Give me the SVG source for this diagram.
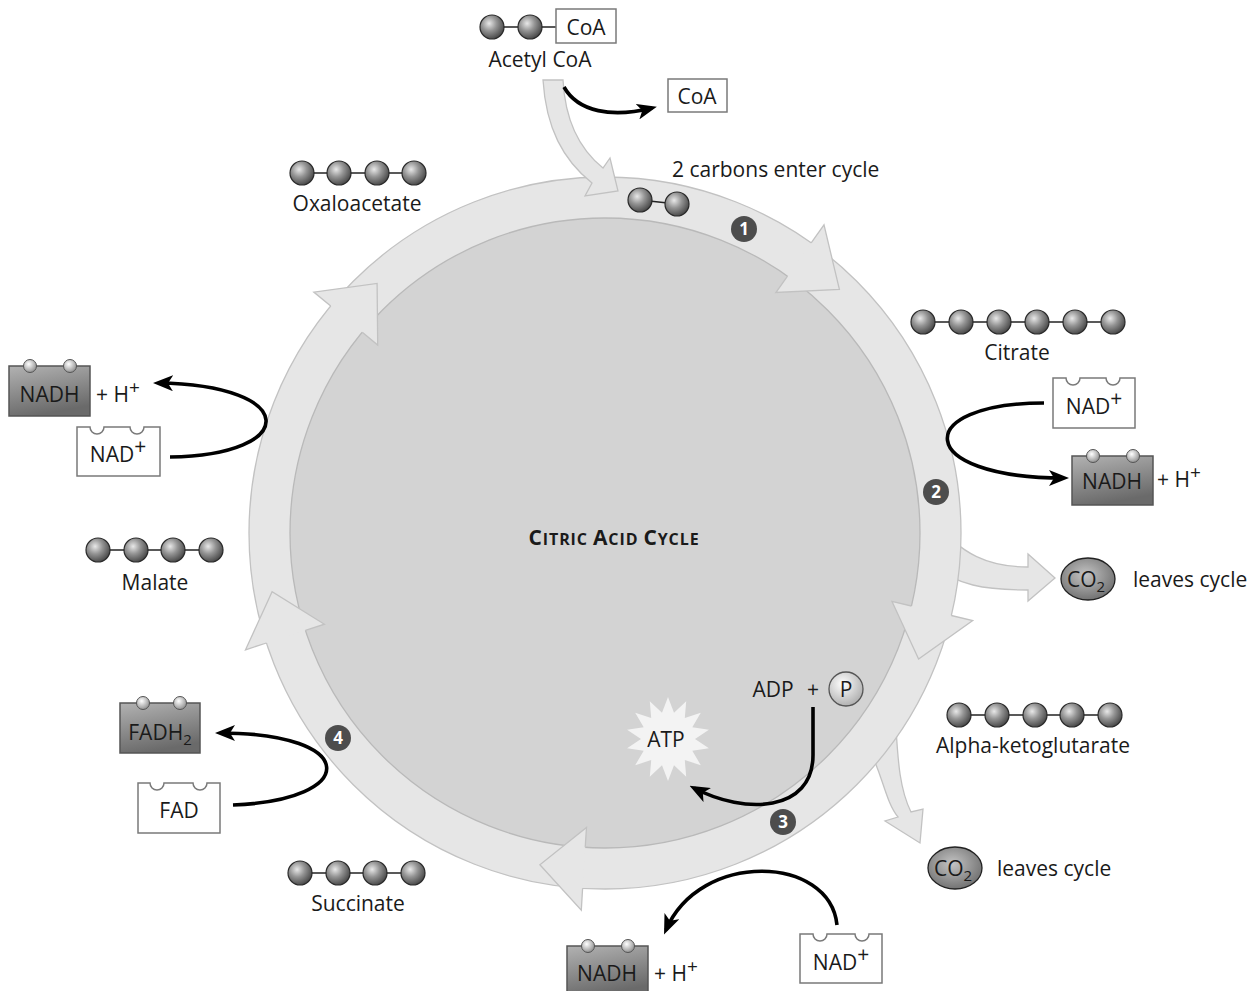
<svg xmlns="http://www.w3.org/2000/svg" width="1254" height="991" viewBox="0 0 1254 991">
<defs>
<radialGradient id="ball" cx="0.38" cy="0.35" r="0.7"><stop offset="0" stop-color="#e8e8e8"/><stop offset="0.45" stop-color="#949494"/><stop offset="1" stop-color="#424242"/></radialGradient>
<radialGradient id="sball" cx="0.4" cy="0.35" r="0.7"><stop offset="0" stop-color="#ffffff"/><stop offset="1" stop-color="#8a8a8a"/></radialGradient>
<radialGradient id="pball" cx="0.4" cy="0.35" r="0.75"><stop offset="0" stop-color="#ffffff"/><stop offset="1" stop-color="#a6a6a6"/></radialGradient>
<radialGradient id="co2" cx="0.45" cy="0.4" r="0.65"><stop offset="0" stop-color="#c4c4c4"/><stop offset="1" stop-color="#6c6c6c"/></radialGradient>
<linearGradient id="nadh" x1="0" y1="0" x2="0.3" y2="1"><stop offset="0" stop-color="#b2b2b2"/><stop offset="1" stop-color="#6a6a6a"/></linearGradient>
<marker id="ah" viewBox="0 0 20 16" refX="15" refY="8" markerWidth="20" markerHeight="16" markerUnits="userSpaceOnUse" orient="auto"><path d="M0,0 L20,8 L0,16 L5,8 Z" fill="#000"/></marker>
<style>
text{font-family:"Open Sans","Liberation Sans",sans-serif;fill:#1a1a1a;}
.lbl{font-size:21px;text-anchor:middle;}
.bx{font-size:21px;text-anchor:middle;}
.sp{fill:url(#ball);stroke:#2a2a2a;stroke-width:1.2;}
.ssp{fill:url(#sball);stroke:#555;stroke-width:1;}
.bond{stroke:#222;stroke-width:1.6;}
.band{fill:#e6e6e6;stroke:#c2c2c2;stroke-width:1.3;}
.head{fill:#e6e6e6;stroke:none;}
.hedge{fill:none;stroke:#c2c2c2;stroke-width:1.3;stroke-linejoin:miter;}
.wbox{fill:#ffffff;stroke:#7a7a7a;stroke-width:1.5;}
.dbox{fill:url(#nadh);stroke:#555;stroke-width:1.5;}
.arr{fill:none;stroke:#000;stroke-width:3.6;marker-end:url(#ah);}
.step{fill:#4d4d4d;}
.stept{font-size:17px;font-weight:bold;fill:#ffffff;text-anchor:middle;}
</style>
</defs>
<rect width="1254" height="991" fill="#ffffff"/>

<g id="exit-arrows">
<path class="band" d="M935,520 C960,555 990,567 1028,567 L1028,554 L1055,578 L1028,601 L1028,590 C985,590 955,585 935,565 Z"/>
<path class="band" d="M862,735 C882,768 884,800 898,817 L885,821 L920,843 L923,809 L911,812 C900,790 898,762 896,728 Z"/>
</g>

<g id="cycle-ring">
<circle cx="605" cy="533" r="356" class="band"/>
<circle cx="605" cy="533" r="315" fill="#d3d3d3" stroke="#b9b9b9" stroke-width="1.3"/>
<polygon class="head" points="824.0,224.9 839.4,289.4 775.9,292.5"/>
<path class="hedge" d="M787.5,276.2 L775.9,292.5 L839.4,289.4 L824.0,224.9 L811.2,242.8"/>
<polygon class="head" points="972.7,620.6 918.6,659.1 892.0,601.4"/>
<path class="hedge" d="M911.4,606.0 L892.0,601.4 L918.6,659.1 L972.7,620.6 L951.3,615.5"/>
<polygon class="head" points="581.3,910.2 539.9,864.7 586.5,827.4"/>
<path class="hedge" d="M585.2,847.4 L586.5,827.4 L539.9,864.7 L581.3,910.2 L582.6,888.3"/>
<polygon class="head" points="245.5,649.8 272.1,591.7 324.4,624.2"/>
<path class="hedge" d="M305.4,630.3 L324.4,624.2 L272.1,591.7 L245.5,649.8 L266.4,643.0"/>
<polygon class="head" points="313.8,292.1 377.1,283.4 377.7,345.0"/>
<path class="hedge" d="M362.3,332.2 L377.7,345.0 L377.1,283.4 L313.8,292.1 L330.7,306.1"/>
</g>

<g id="entry-arrow">
<path class="band" d="M543,80 L563,80 C565,118 578,148 603,168 L610,158 L618,191 L585,196 L592,183 C563,160 546,128 543,80 Z"/>
</g>

<g id="center-label">
<text x="614" y="545" text-anchor="middle" font-weight="bold" letter-spacing="0.9"><tspan font-size="21">C</tspan><tspan font-size="16">ITRIC </tspan><tspan font-size="21">A</tspan><tspan font-size="16">CID </tspan><tspan font-size="21">C</tspan><tspan font-size="16">YCLE</tspan></text>
</g>

<g id="steps">
<circle class="step" cx="744" cy="229" r="13"/><text class="stept" x="744" y="235">1</text>
<circle class="step" cx="936" cy="492" r="13"/><text class="stept" x="936" y="498">2</text>
<circle class="step" cx="783" cy="822" r="13"/><text class="stept" x="783" y="828">3</text>
<circle class="step" cx="338" cy="738" r="13"/><text class="stept" x="338" y="744">4</text>
</g>

<g id="acetyl-coa">
<line class="bond" x1="492" y1="27" x2="556" y2="27"/>
<circle class="sp" cx="492" cy="27" r="12"/>
<circle class="sp" cx="530" cy="27" r="12"/>
<rect class="wbox" x="556" y="9" width="60" height="34"/>
<text class="bx" x="586" y="35">CoA</text>
<text class="lbl" x="540" y="67">Acetyl CoA</text>
</g>

<g id="coa-out">
<rect class="wbox" x="668" y="79" width="59" height="33"/>
<text class="bx" x="697" y="104">CoA</text>
</g>

<g id="two-carbons">
<line class="bond" x1="640" y1="200" x2="677" y2="204"/>
<circle class="sp" cx="640" cy="200" r="12"/>
<circle class="sp" cx="677" cy="204" r="12"/>
<text x="672" y="177" font-size="21">2 carbons enter cycle</text>
</g>

<g id="oxaloacetate">
<line class="bond" x1="302" y1="173" x2="414" y2="173"/>
<circle class="sp" cx="302" cy="173" r="12"/><circle class="sp" cx="339" cy="173" r="12"/><circle class="sp" cx="377" cy="173" r="12"/><circle class="sp" cx="414" cy="173" r="12"/>
<text class="lbl" x="357" y="211">Oxaloacetate</text>
</g>

<g id="citrate">
<line class="bond" x1="923" y1="322" x2="1113" y2="322"/>
<circle class="sp" cx="923" cy="322" r="12"/><circle class="sp" cx="961" cy="322" r="12"/><circle class="sp" cx="999" cy="322" r="12"/><circle class="sp" cx="1037" cy="322" r="12"/><circle class="sp" cx="1075" cy="322" r="12"/><circle class="sp" cx="1113" cy="322" r="12"/>
<text class="lbl" x="1017" y="360">Citrate</text>
</g>

<g id="alpha-ketoglutarate">
<line class="bond" x1="959" y1="715" x2="1110" y2="715"/>
<circle class="sp" cx="959" cy="715" r="12"/><circle class="sp" cx="997" cy="715" r="12"/><circle class="sp" cx="1035" cy="715" r="12"/><circle class="sp" cx="1072" cy="715" r="12"/><circle class="sp" cx="1110" cy="715" r="12"/>
<text class="lbl" x="1033" y="753">Alpha-ketoglutarate</text>
</g>

<g id="succinate">
<line class="bond" x1="300" y1="873" x2="413" y2="873"/>
<circle class="sp" cx="300" cy="873" r="12"/><circle class="sp" cx="338" cy="873" r="12"/><circle class="sp" cx="375" cy="873" r="12"/><circle class="sp" cx="413" cy="873" r="12"/>
<text class="lbl" x="358" y="911">Succinate</text>
</g>

<g id="malate">
<line class="bond" x1="98" y1="550" x2="211" y2="550"/>
<circle class="sp" cx="98" cy="550" r="12"/><circle class="sp" cx="136" cy="550" r="12"/><circle class="sp" cx="173" cy="550" r="12"/><circle class="sp" cx="211" cy="550" r="12"/>
<text class="lbl" x="155" y="590">Malate</text>
</g>

<g id="co2-upper">
<ellipse cx="1088" cy="579" rx="27" ry="21" fill="url(#co2)" stroke="#222" stroke-width="1.3"/>
<text x="1086" y="587" font-size="21" text-anchor="middle">CO<tspan font-size="15" dy="5">2</tspan></text>
<text x="1133" y="587" font-size="21">leaves cycle</text>
</g>

<g id="co2-lower">
<ellipse cx="955" cy="868" rx="27" ry="21" fill="url(#co2)" stroke="#222" stroke-width="1.3"/>
<text x="953" y="876" font-size="21" text-anchor="middle">CO<tspan font-size="15" dy="5">2</tspan></text>
<text x="997" y="876" font-size="21">leaves cycle</text>
</g>

<g id="atp">
<polygon fill="#f3f3f3" points="668,697 674.0,712.7 686.2,701.2 684.8,717.9 700.8,712.8 692.3,727.3 708.9,729.7 695,739 708.9,748.3 692.3,750.7 700.8,765.2 684.8,760.1 686.2,776.8 674.0,765.3 668,781 662.0,765.3 649.8,776.8 651.2,760.1 635.2,765.2 643.7,750.7 627.1,748.3 641,739 627.1,729.7 643.7,727.3 635.2,712.8 651.2,717.9 649.8,701.2 662.0,712.7"/>
<text x="666" y="747" font-size="21" text-anchor="middle">ATP</text>
</g>

<g id="adp-p">
<text x="773" y="697" font-size="21" text-anchor="middle">ADP</text>
<text x="813" y="697" font-size="21" text-anchor="middle">+</text>
<circle cx="846" cy="689" r="17" fill="url(#pball)" stroke="#555" stroke-width="1.3"/>
<text x="846" y="697" font-size="21" text-anchor="middle">P</text>
</g>

<g id="nadh-left">
<rect class="dbox" x="9" y="366" width="81" height="50"/>
<circle class="ssp" cx="30" cy="366" r="6.5"/><circle class="ssp" cx="70" cy="366" r="6.5"/>
<text class="bx" x="49.5" y="402">NADH</text>
<text x="96" y="402" font-size="21">+ H<tspan font-size="19" dy="-8">+</tspan></text>
</g>
<g id="nad-left">
<path class="wbox" d="M77,427 L90,427 A7,7 0 0 0 104,427 L130,427 A7,7 0 0 0 144,427 L160,427 L160,476 L77,476 Z"/>
<text x="118" y="462" font-size="21" text-anchor="middle">NAD<tspan font-size="21" dy="-8">+</tspan></text>
</g>

<g id="nad-right">
<path class="wbox" d="M1053,378 L1066,378 A7,7 0 0 0 1080,378 L1106,378 A7,7 0 0 0 1120,378 L1135,378 L1135,428 L1053,428 Z"/>
<text x="1094" y="414" font-size="21" text-anchor="middle">NAD<tspan font-size="21" dy="-8">+</tspan></text>
</g>
<g id="nadh-right">
<rect class="dbox" x="1072" y="456" width="81" height="49"/>
<circle class="ssp" cx="1093" cy="456" r="6.5"/><circle class="ssp" cx="1133" cy="456" r="6.5"/>
<text class="bx" x="1112" y="489">NADH</text>
<text x="1157" y="487" font-size="21">+ H<tspan font-size="19" dy="-8">+</tspan></text>
</g>

<g id="nadh-bottom">
<rect class="dbox" x="567" y="946" width="81" height="50"/>
<circle class="ssp" cx="588" cy="946" r="6.5"/><circle class="ssp" cx="628" cy="946" r="6.5"/>
<text class="bx" x="607" y="981">NADH</text>
<text x="654" y="981" font-size="21">+ H<tspan font-size="19" dy="-8">+</tspan></text>
</g>
<g id="nad-bottom">
<path class="wbox" d="M800,934 L813,934 A7,7 0 0 0 827,934 L855,934 A7,7 0 0 0 869,934 L882,934 L882,983 L800,983 Z"/>
<text x="841" y="970" font-size="21" text-anchor="middle">NAD<tspan font-size="21" dy="-8">+</tspan></text>
</g>

<g id="fadh2">
<rect class="dbox" x="120" y="703" width="80" height="50"/>
<circle class="ssp" cx="143" cy="703" r="6.5"/><circle class="ssp" cx="180" cy="703" r="6.5"/>
<text x="160" y="740" font-size="21" text-anchor="middle">FADH<tspan font-size="15" dy="5">2</tspan></text>
</g>
<g id="fad">
<path class="wbox" d="M138,783 L150,783 A7,7 0 0 0 164,783 L193,783 A7,7 0 0 0 207,783 L220,783 L220,833 L138,833 Z"/>
<text x="179" y="818" font-size="21" text-anchor="middle">FAD</text>
</g>

<g id="connectors">
<path class="arr" d="M564,87 C578,112 612,118 652,108"/>
<path class="arr" d="M170,457 C300,455 300,385 158,383"/>
<path class="arr" d="M1044,403 C912,403 912,478 1064,478"/>
<path class="arr" d="M837,925 C830,855 700,850 666,930"/>
<path class="arr" d="M233,805 C360,800 360,733 220,733"/>
<path class="arr" d="M813,707 L813,755 C813,812 745,815 694,788"/>
</g>
</svg>
